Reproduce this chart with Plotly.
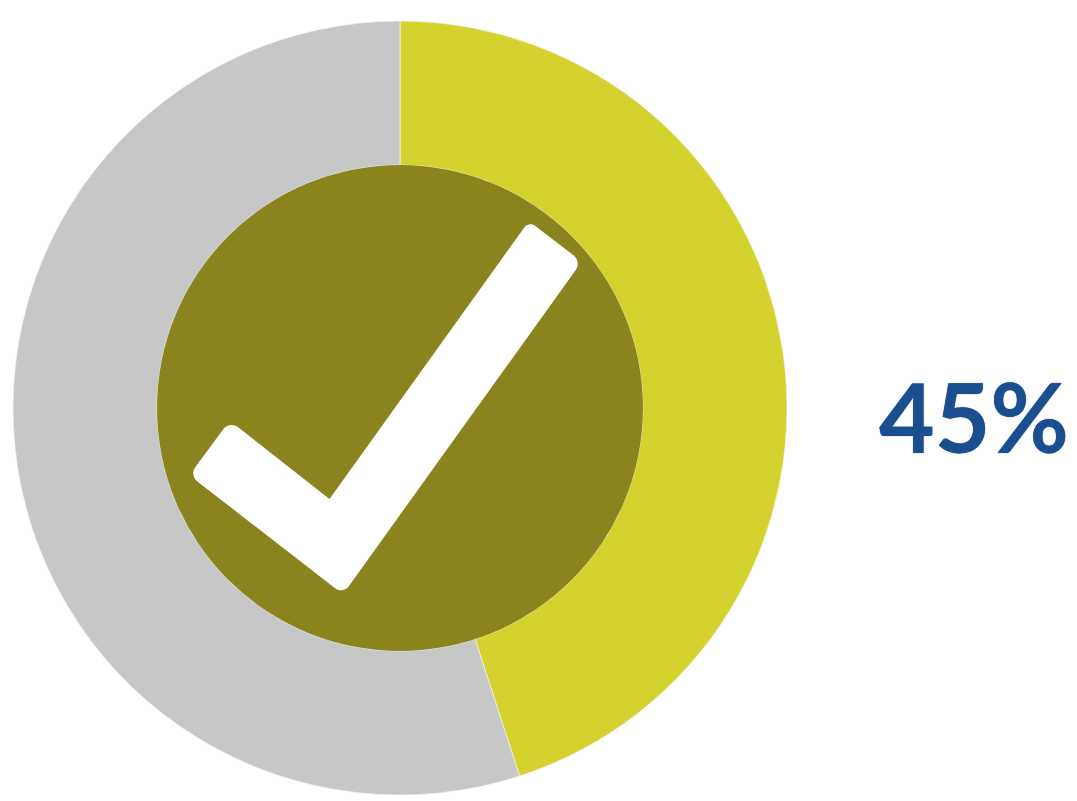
import plotly.graph_objects as go

W, H = 1077, 801
labels = ["Yes", "Other"]
values = [45, 55]
colors = ["#D3D22E", "#C7C7C7"]
center_label = "45%"

CX, CY = 400, 408
R_OUT, R_HOLE, R_DISC = 387, 243, 243

check_path = (
    "M 524.3,227.5 C 526.9,223.9 531.8,223.2 535.3,226 L 573.8,255.6 "
    "C 578.1,259 579.1,265.3 575.9,269.8 L 348.8,586.2 "
    "C 345.6,590.7 339.5,591.6 335.1,588.2 L 197.3,481.4 "
    "C 192.9,478 192,471.7 195.2,467.2 L 223.1,429.5 "
    "C 226.6,424.5 233.4,423.6 238.1,427.3 L 329.5,499 Z"
)

fig = go.Figure(
    go.Pie(
        labels=labels,
        values=values,
        sort=False,
        direction="clockwise",
        rotation=0,
        hole=R_HOLE / R_OUT,
        textinfo="none",
        hoverinfo="label+percent",
        marker=dict(colors=colors, line=dict(color="#F4F4E8", width=0.7)),
        domain=dict(
            x=[(CX - R_OUT) / W, (CX + R_OUT) / W],
            y=[1 - (CY + R_OUT) / H, 1 - (CY - R_OUT) / H],
        ),
        showlegend=False,
    )
)

fig.update_layout(
    width=W,
    height=H,
    autosize=False,
    margin=dict(l=0, r=0, t=0, b=0),
    paper_bgcolor="white",
    plot_bgcolor="white",
    xaxis=dict(range=[0, W], visible=False, fixedrange=True),
    yaxis=dict(range=[H, 0], visible=False, fixedrange=True),
    shapes=[
        dict(type="circle", xref="x", yref="y",
             x0=CX - R_DISC, x1=CX + R_DISC, y0=CY - R_DISC, y1=CY + R_DISC,
             fillcolor="#8A841F", line=dict(width=0), layer="above"),
        dict(type="path", xref="x", yref="y", path=check_path,
             fillcolor="white", line=dict(width=0), layer="above"),
    ],
    annotations=[
        dict(text=f"<b>{center_label}</b>", xref="x", yref="y", x=973.5, y=415.5,
             xanchor="center", yanchor="middle", showarrow=False,
             font=dict(family="Lato", size=96, color="#1A4E8E",
                       shadow="0 0 1px #1A4E8E")),
    ],
)
fig.add_trace(go.Scatter(x=[0, W], y=[0, H], mode="markers", marker=dict(opacity=0),
                         hoverinfo="skip", showlegend=False))

fig.write_html(
    "out.html",
    config=dict(displayModeBar=False),
    post_script="document.body.style.margin='0';document.body.style.overflow='hidden';",
)
